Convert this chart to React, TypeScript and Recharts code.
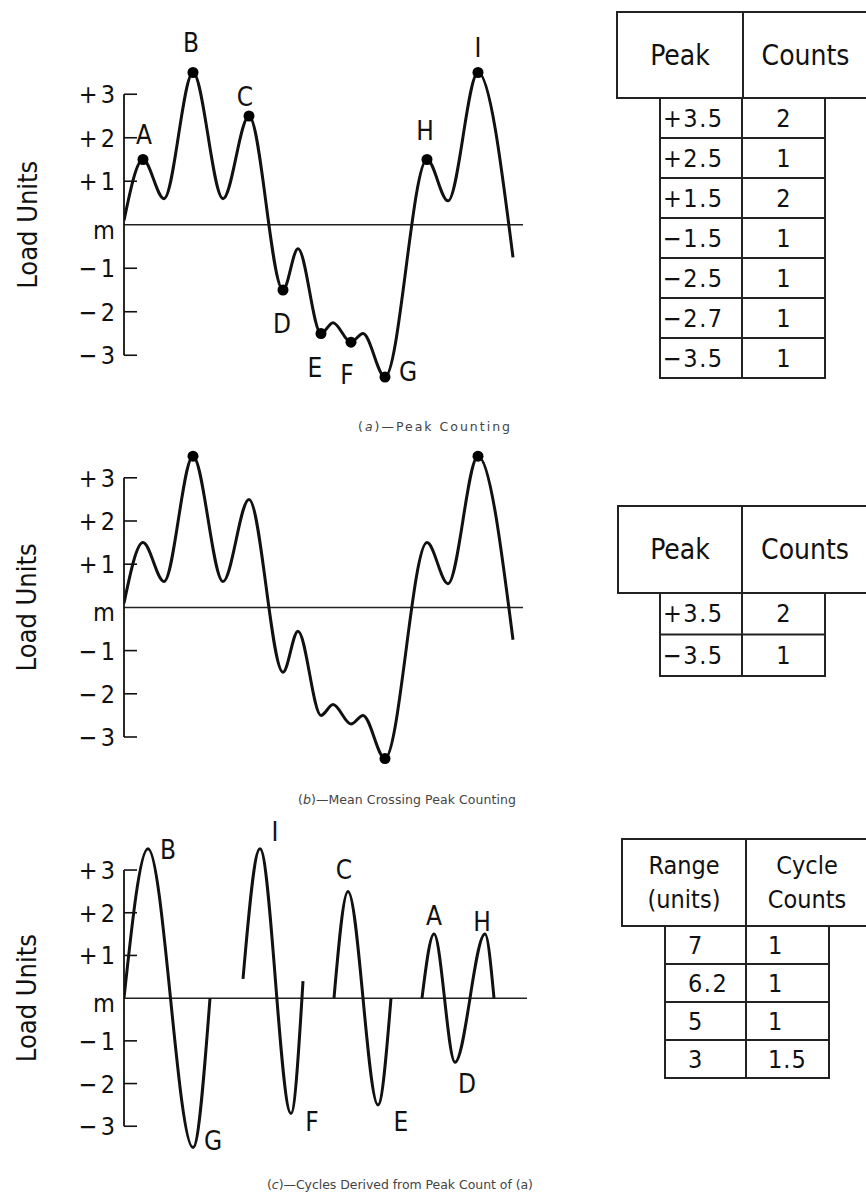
import React from 'react';
import { LineChart, Line, XAxis, YAxis, ReferenceLine, LabelList } from 'recharts';

// Load–time history used in (a) and (b): time and load level at each turning point
const historyTime = [0, 19, 40, 69, 99, 125, 159, 174, 197, 209, 227, 239, 261, 303, 324, 354, 389];
const historyLoad = [0.1, 1.5, 0.6, 3.5, 0.6, 2.5, -1.5, -0.55, -2.5, -2.25, -2.7, -2.5, -3.5, 1.5, 0.55, 3.5, -0.75];
const historyTag = ['', 'A', '', 'B', '', 'C', 'D', '', 'E', '', 'F', '', 'G', 'H', '', 'I', ''];

// Peaks that survive mean-crossing counting in (b)
const meanCrossingPeaks = ['B', 'G', 'I'];

// Cycles rebuilt from the peak count of (a), shown in (c)
const cycleTimes = [
  [0, 24, 69, 86],
  [119, 136, 167, 179],
  [210, 224, 254, 267],
  [298, 310, 331, 361, 370],
];
const cycleLoads = [
  [0, 3.5, -3.5, 0],
  [0.45, 3.5, -2.7, 0.4],
  [0, 2.5, -2.5, 0],
  [0, 1.5, -1.5, 1.5, 0],
];
const cycleTags = [
  ['', 'B', 'G', ''],
  ['', 'I', 'F', ''],
  ['', 'C', 'E', ''],
  ['', 'A', 'D', 'H', ''],
];

// Load axis
const loadTicks = [3, 2, 1, 0, -1, -2, -3];
const loadTickLabels = ['+3', '+2', '+1', 'm', '\u22121', '\u22122', '\u22123'];

// Count tables
const peakLevels = ['+3.5', '+2.5', '+1.5', '\u22121.5', '\u22122.5', '\u22122.7', '\u22123.5'];
const peakCounts = ['2', '1', '2', '1', '1', '1', '1'];
const crossingLevels = ['+3.5', '\u22123.5'];
const crossingCounts = ['2', '1'];
const cycleRanges = ['7', '6.2', '5', '3'];
const cycleCounts = ['1', '1', '1', '1.5'];

type Pt = { t: number; v: number; tag: string };
const toPoints = (ts: number[], vs: number[], tags: string[]): Pt[] =>
  ts.map((t, i) => ({ t, v: vs[i], tag: tags[i] }));

const historyPoints = toPoints(historyTime, historyLoad, historyTag);
const cyclePoints = cycleTimes.map((ts, i) => toPoints(ts, cycleLoads[i], cycleTags[i]));

const INK = '#111';
const FONT = "'DejaVu Sans Condensed', 'DejaVu Sans', sans-serif";

// letter placement relative to its reversal point
const tagOffsetA: Record<string, [number, number]> = {
  A: [1, -25], B: [-2, -30], C: [-4, -19], D: [-1, 34], E: [-6, 34],
  F: [-4, 33], G: [23, -5], H: [-2, -29], I: [0, -25],
};
const tagOffsetC: Record<string, [number, number]> = {
  B: [20, 1], I: [15, -17], C: [-4, -21], A: [0, -18], H: [-3, -12],
  G: [20, -7], F: [21, 9], E: [23, 17], D: [12, 22],
};

const AXIS_X = 124;
const AXIS_W = 60;
const PAD = 26;
const CHART_W = 560;

type ChartProps = {
  m: number;
  unit: number;
  xMax: number;
  series: Pt[][];
  dotTags: string[];
  offsets: Record<string, [number, number]> | null;
};

function LoadChart({ m, unit, xMax, series, dotTags, offsets }: ChartProps) {
  const half = 4.5 * unit;
  const height = 2 * half + 2 * PAD;
  const yMid = PAD + half;

  const renderTick = (props: any) => {
    const { y, payload } = props;
    const v = payload.value as number;
    const label = loadTickLabels[loadTicks.indexOf(v)];
    return (
      <g>
        {v !== 0 && (
          <line x1={AXIS_X} x2={AXIS_X + 13} y1={y} y2={y} stroke={INK} strokeWidth={1.6} />
        )}
        <text
          x={AXIS_X - 6}
          y={y + (v === 0 ? 14 : 9)}
          textAnchor="end"
          fontFamily={FONT}
          fontSize={25}
          letterSpacing={3}
          fill={INK}
        >
          {label}
        </text>
      </g>
    );
  };

  const renderDot = (props: any) => {
    const { cx, cy, payload, index } = props;
    if (dotTags.includes(payload.tag)) {
      return <circle key={`d${index}`} cx={cx} cy={cy} r={5.5} fill="#000" />;
    }
    return <g key={`d${index}`} />;
  };

  const renderTag = (props: any) => {
    const { x, y, value, index } = props;
    if (!value || !offsets) return null;
    const [dx, dy] = offsets[value];
    return (
      <text
        key={`t${index}`}
        x={x + dx}
        y={y + dy}
        textAnchor="middle"
        dominantBaseline="central"
        fontFamily={FONT}
        fontSize={26}
        fill={INK}
      >
        {value}
      </text>
    );
  };

  return (
    <div style={{ position: 'absolute', left: 0, top: m - half - PAD, width: CHART_W, height }}>
      <LineChart
        width={CHART_W}
        height={height}
        margin={{ top: PAD, bottom: PAD, left: AXIS_X - AXIS_W, right: CHART_W - AXIS_X - xMax }}
      >
        <XAxis type="number" dataKey="t" domain={[0, xMax]} hide allowDataOverflow />
        <YAxis
          type="number"
          domain={[-4.5, 4.5]}
          ticks={loadTicks}
          interval={0}
          width={AXIS_W}
          axisLine={false}
          tickLine={false}
          tick={renderTick}
          allowDataOverflow
          label={{
            content: () => (
              <text
                x={27}
                y={yMid}
                transform={`rotate(-90 27 ${yMid})`}
                textAnchor="middle"
                dominantBaseline="central"
                fontFamily={FONT}
                fontSize={27}
                fill={INK}
              >
                Load Units
              </text>
            ),
          }}
        />
        <ReferenceLine y={0} stroke="#222" strokeWidth={1.5} />
        <ReferenceLine
          segment={[{ x: 0, y: 3 }, { x: 0, y: -3 }]}
          stroke={INK}
          strokeWidth={1.8}
        />
        {series.map((pts, i) => (
          <Line
            key={i}
            data={pts}
            dataKey="v"
            type="monotone"
            stroke={INK}
            strokeWidth={3}
            dot={renderDot}
            activeDot={false}
            isAnimationActive={false}
          >
            {offsets && <LabelList dataKey="tag" content={renderTag} />}
          </Line>
        ))}
      </LineChart>
    </div>
  );
}

type TableLayout = {
  headLeft: number;
  headTop: number;
  headMid: number;
  headBottom: number;
  bodyLeft: number;
  bodyMid: number;
  bodyRight: number;
  rowH: number;
  headFont: number;
  headLineGap: number;
  col1X: number;
  col1Anchor: 'start' | 'middle';
  col2X: number;
  col2Anchor: 'start' | 'middle';
};

function CountTable({
  layout,
  head1,
  head2,
  col1,
  col2,
}: {
  layout: TableLayout;
  head1: string[];
  head2: string[];
  col1: string[];
  col2: string[];
}) {
  const L = layout;
  const RIGHT = 872;
  const bottom = L.headBottom + L.rowH * col1.length;
  const headMidY = (L.headTop + L.headBottom) / 2;
  const c1 = (L.headLeft + L.headMid) / 2;
  const c2 = (L.headMid + RIGHT - 4) / 2;
  const headLines = (lines: string[], cx: number) =>
    lines.map((s, i) => (
      <text
        key={i}
        x={cx}
        y={headMidY + (i - (lines.length - 1) / 2) * L.headLineGap}
        textAnchor="middle"
        dominantBaseline="central"
        fontFamily={FONT}
        fontSize={L.headFont}
        fill={INK}
      >
        {s}
      </text>
    ));
  return (
    <g stroke="#222" strokeWidth={2} fill="none">
      <rect x={L.headLeft} y={L.headTop} width={RIGHT - L.headLeft} height={L.headBottom - L.headTop} />
      <line x1={L.headMid} x2={L.headMid} y1={L.headTop} y2={L.headBottom} />
      <rect x={L.bodyLeft} y={L.headBottom} width={L.bodyRight - L.bodyLeft} height={bottom - L.headBottom} />
      <line x1={L.bodyMid} x2={L.bodyMid} y1={L.headBottom} y2={bottom} />
      {col1.slice(1).map((_, i) => (
        <line
          key={i}
          x1={L.bodyLeft}
          x2={L.bodyRight}
          y1={L.headBottom + L.rowH * (i + 1)}
          y2={L.headBottom + L.rowH * (i + 1)}
        />
      ))}
      <g stroke="none">
        {headLines(head1, c1)}
        {headLines(head2, c2)}
        {col1.map((s, i) => (
          <text
            key={`a${i}`}
            x={L.col1X}
            y={L.headBottom + L.rowH * (i + 0.5)}
            textAnchor={L.col1Anchor}
            dominantBaseline="central"
            fontFamily={FONT}
            fontSize={25}
            letterSpacing={1.5}
            fill={INK}
          >
            {s}
          </text>
        ))}
        {col2.map((s, i) => (
          <text
            key={`b${i}`}
            x={L.col2X}
            y={L.headBottom + L.rowH * (i + 0.5)}
            textAnchor={L.col2Anchor}
            dominantBaseline="central"
            fontFamily={FONT}
            fontSize={25}
            letterSpacing={1}
            fill={INK}
          >
            {s}
          </text>
        ))}
      </g>
    </g>
  );
}

const peakTableLayout: TableLayout = {
  headLeft: 617, headTop: 12, headMid: 743, headBottom: 98,
  bodyLeft: 660, bodyMid: 742, bodyRight: 825, rowH: 40,
  headFont: 28, headLineGap: 34,
  col1X: 663, col1Anchor: 'start', col2X: 784, col2Anchor: 'middle',
};
const crossingTableLayout: TableLayout = {
  headLeft: 618, headTop: 506, headMid: 742, headBottom: 593,
  bodyLeft: 660, bodyMid: 742, bodyRight: 825, rowH: 41.5,
  headFont: 28, headLineGap: 34,
  col1X: 663, col1Anchor: 'start', col2X: 784, col2Anchor: 'middle',
};
const cycleTableLayout: TableLayout = {
  headLeft: 622, headTop: 839, headMid: 746, headBottom: 926,
  bodyLeft: 665, bodyMid: 746, bodyRight: 829, rowH: 38,
  headFont: 25, headLineGap: 34,
  col1X: 688, col1Anchor: 'start', col2X: 768, col2Anchor: 'start',
};

function Caption({ x, y, w, letter, rest }: { x: number; y: number; w: number; letter: string; rest: string }) {
  return (
    <text
      x={x}
      y={y}
      fontFamily="'DejaVu Sans', sans-serif"
      fontSize={12.5}
      fill="#444"
      textLength={w}
      lengthAdjust="spacing"
    >
      (<tspan fontStyle="italic">{letter}</tspan>){rest}
    </text>
  );
}

export default function App() {
  return (
    <div
      style={{
        position: 'absolute',
        left: 0,
        top: 0,
        width: 866,
        height: 1197,
        overflow: 'hidden',
        background: '#fff',
      }}
    >
      <LoadChart
        m={225}
        unit={43.5}
        xMax={399}
        series={[historyPoints]}
        dotTags={historyTag.filter((s) => s)}
        offsets={tagOffsetA}
      />
      <LoadChart
        m={607}
        unit={43.2}
        xMax={399}
        series={[historyPoints]}
        dotTags={meanCrossingPeaks}
        offsets={null}
      />
      <LoadChart
        m={998}
        unit={42.7}
        xMax={403}
        series={cyclePoints}
        dotTags={[]}
        offsets={tagOffsetC}
      />
      <svg
        width={866}
        height={1197}
        style={{ position: 'absolute', left: 0, top: 0, pointerEvents: 'none' }}
      >
        <Caption x={358} y={431} w={152} letter="a" rest={'\u2014Peak Counting'} />
        <Caption x={298} y={804} w={218} letter="b" rest={'\u2014Mean Crossing Peak Counting'} />
        <Caption x={267} y={1189} w={266} letter="c" rest={'\u2014Cycles Derived from Peak Count of (a)'} />
        <CountTable
          layout={peakTableLayout}
          head1={['Peak']}
          head2={['Counts']}
          col1={peakLevels}
          col2={peakCounts}
        />
        <CountTable
          layout={crossingTableLayout}
          head1={['Peak']}
          head2={['Counts']}
          col1={crossingLevels}
          col2={crossingCounts}
        />
        <CountTable
          layout={cycleTableLayout}
          head1={['Range', '(units)']}
          head2={['Cycle', 'Counts']}
          col1={cycleRanges}
          col2={cycleCounts}
        />
      </svg>
    </div>
  );
}
